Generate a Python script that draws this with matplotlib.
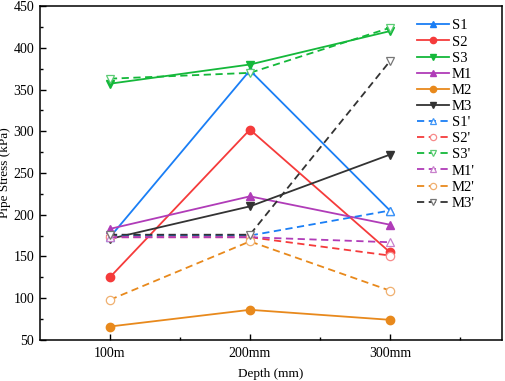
import matplotlib
matplotlib.use("Agg")
import matplotlib.pyplot as plt
from matplotlib.ticker import MultipleLocator, FixedLocator

# data
depths = ["100m", "200mm", "300mm"]
s1 = [173, 373, 205]
s2 = [125, 302, 155]
s3 = [357, 380, 420]
m1 = [183, 222, 188]
m2 = [66, 86, 74]
m3 = [171, 210, 272]
s1p = [175, 175, 205]
s2p = [173, 173, 151]
s3p = [363, 370, 424]
m1p = [173, 173, 167]
m2p = [98, 168, 109]
m3p = [176, 176, 384]

blue = "#1a7ef5"
red = "#f53b3b"
green = "#14b83a"
magenta = "#b03cb8"
orange = "#e8891c"
black = "#333333"

plt.rcParams['font.family'] = ['Liberation Serif', 'DejaVu Serif']

fig = plt.figure(figsize=(5.05, 3.81), dpi=100)
ax = fig.add_axes([0.079, 0.108, 0.915, 0.876])

x = [1, 2, 3]

solid = [
    (s1, "S1", blue, "^"),
    (s2, "S2", red, "o"),
    (s3, "S3", green, "v"),
    (m1, "M1", magenta, "^"),
    (m2, "M2", orange, "o"),
    (m3, "M3", black, "v"),
]
dashed = [
    (s1p, "S1'", blue, "^", "#3f95f7"),
    (s2p, "S2'", red, "o", "#f78a8a"),
    (s3p, "S3'", green, "v", "#5ccc74"),
    (m1p, "M1'", magenta, "^", "#c880cc"),
    (m2p, "M2'", orange, "o", "#f0b070"),
    (m3p, "M3'", black, "v", "#777777"),
]

for vals, lab, c, mk in solid:
    ax.plot(x, vals, color=c, marker=mk, markersize=6, linewidth=1.3, label=lab)

for vals, lab, c, mk, ec in dashed:
    ax.plot(x, vals, color=c, marker=mk, markersize=6, linewidth=1.3,
            linestyle=(0, (4, 2.5)), markerfacecolor="white",
            markeredgecolor=ec, markeredgewidth=0.9, label=lab)

ax.set_xlim(0.5, 3.8)
ax.set_ylim(50, 450)
ax.xaxis.set_major_locator(FixedLocator(x))
ax.xaxis.set_minor_locator(FixedLocator([1.5, 2.5, 3.5]))
ax.set_xticklabels(depths)
ax.yaxis.set_major_locator(MultipleLocator(50))
ax.yaxis.set_minor_locator(MultipleLocator(25))
ax.tick_params(which='both', direction='in', top=False, right=False, labelsize=10)
ax.tick_params(which='major', length=4, width=1)
ax.tick_params(which='minor', length=2.5, width=1)
ax.tick_params(axis='x', pad=5)
ax.tick_params(axis='y', pad=4)
for sp in ax.spines.values():
    sp.set_linewidth(1.1)

ax.set_xlabel("Depth (mm)", fontsize=9.5, labelpad=6)
ax.set_ylabel("Pipe Stress (kPa)", fontsize=9.5, labelpad=2)

leg = ax.legend(loc="upper right", frameon=False, fontsize=10.5,
                handlelength=2.2, handletextpad=0.2, labelspacing=0.2,
                markerscale=0.75, bbox_to_anchor=(0.97, 1.0))

fig.savefig("out.png", dpi=100)
